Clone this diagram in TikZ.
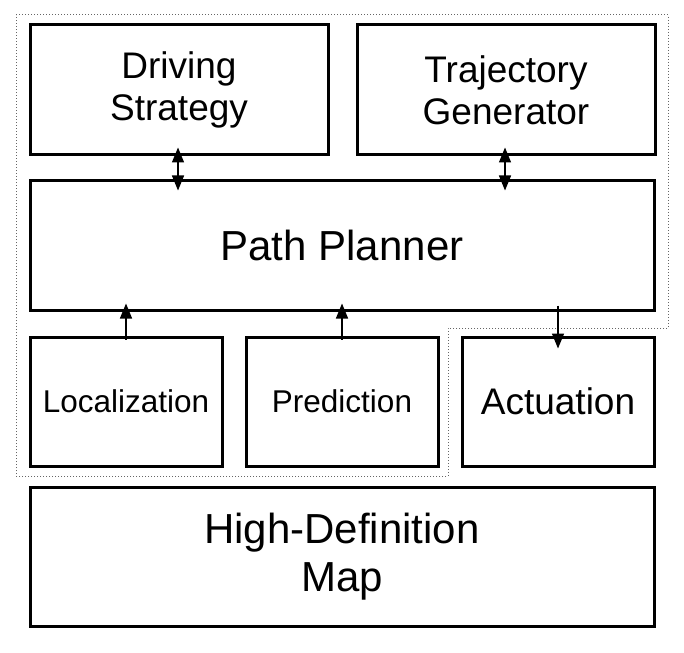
\documentclass[tikz,border=0pt]{standalone}
\usepackage{fontspec}
\setmainfont{Liberation Sans}
\usetikzlibrary{arrows.meta,calc}
\begin{document}
\begin{tikzpicture}[x=1pt,y=-1pt,
  box/.style={draw=black,line width=3pt,rectangle,align=center,inner sep=0pt},
  fbig/.style={font=\fontsize{42}{48}\selectfont},
  fmid/.style={font=\fontsize{37}{42}\selectfont},
  fsmall/.style={font=\fontsize{31.5}{34}\selectfont},
  arr/.style={line width=1.3pt,-{Triangle[width=12pt,length=15pt]}},
  darr/.style={line width=1.3pt,{Triangle[width=12pt,length=15pt]}-{Triangle[width=12pt,length=15pt]}},
  grp/.style={draw=black!60,dotted,line width=1pt}]
\useasboundingbox (0,0) rectangle (684,652);
\fill[white] (0,0) rectangle (684,652);
\draw[grp] (16,15) -- (668,15) -- (668,328) -- (448,328) -- (448,476) -- (16,476) -- cycle;
\node[box,fmid,minimum width=298pt,minimum height=130pt] (ds) at (179,90) {Driving\\Strategy};
\node[box,fmid,minimum width=298pt,minimum height=130pt] (tg) at (506,90) {Trajectory\\Generator};
\node[box,fbig,minimum width=624pt,minimum height=129pt] (pp) at (342,245.5) {Path Planner};
\node[box,fsmall,minimum width=192pt,minimum height=129pt] (loc) at (126,401.5) {Localization};
\node[box,fsmall,minimum width=192pt,minimum height=129pt] (pred) at (342,401.5) {Prediction};
\node[box,fmid,minimum width=192pt,minimum height=129pt] (act) at (558,401.5) {Actuation};
\node[box,fbig,minimum width=624pt,minimum height=139pt] (hd) at (342,557) {High-Definition\\Map};
\draw[darr] ($(ds.south)+(-1,-9)$) -- ($(ds.south |- pp.north)+(-1,11)$);
\draw[darr] ($(tg.south)+(-1,-9)$) -- ($(tg.south |- pp.north)+(-1,11)$);
\draw[arr] ($(loc.north)+(0,4)$) -- ($(loc.north |- pp.south)+(0,-8)$);
\draw[arr] ($(pred.north)+(0,4)$) -- ($(pred.north |- pp.south)+(0,-8)$);
\draw[arr] ($(act.north |- pp.south)+(0,-6)$) -- ($(act.north)+(0,13)$);
\end{tikzpicture}
\end{document}
